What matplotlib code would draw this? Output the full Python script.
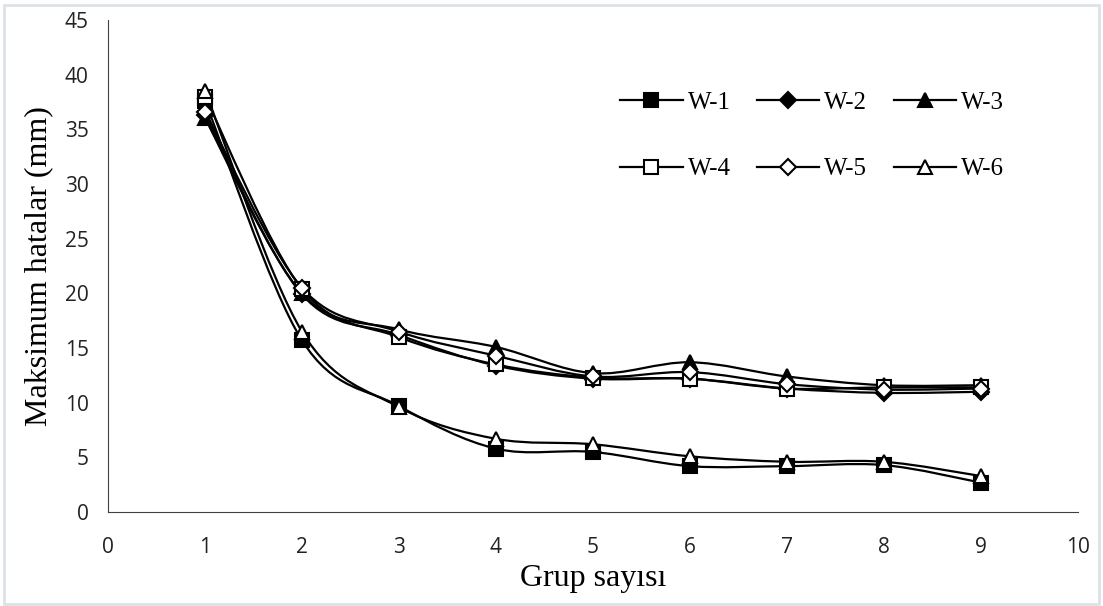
import numpy as np
import matplotlib
matplotlib.use("Agg")
import matplotlib.pyplot as plt
from matplotlib.path import Path
from matplotlib.patches import PathPatch, Rectangle
from matplotlib.lines import Line2D

groups = [1, 2, 3, 4, 5, 6, 7, 8, 9]
w1 = [37.6, 15.7, 9.7, 5.8, 5.5, 4.2, 4.2, 4.3, 2.7]
w2 = [36.3, 19.9, 16.2, 13.4, 12.2, 12.2, 11.3, 10.9, 11.0]
w3 = [36.0, 20.0, 16.7, 15.1, 12.7, 13.7, 12.4, 11.6, 11.6]
w4 = [38.0, 20.4, 16.0, 13.5, 12.3, 12.2, 11.3, 11.4, 11.4]
w5 = [36.6, 20.5, 16.5, 14.3, 12.4, 12.8, 11.7, 11.2, 11.3]
w6 = [38.5, 16.5, 9.6, 6.7, 6.2, 5.1, 4.6, 4.6, 3.3]
labels = ["W-1", "W-2", "W-3", "W-4", "W-5", "W-6"]

serif = "Liberation Serif"
sans = "Open Sans"


def smooth_path(x, y):
    # Excel-like smoothed line: Catmull-Rom as cubic bezier segments
    pts = np.column_stack([x, y]).astype(float)
    n = len(pts)
    verts = [pts[0]]
    codes = [Path.MOVETO]
    for i in range(n - 1):
        p0 = pts[i - 1] if i > 0 else pts[i]
        p1 = pts[i]
        p2 = pts[i + 1]
        p3 = pts[i + 2] if i + 2 < n else pts[i + 1]
        c1 = p1 + (p2 - p0) / 6.0
        c2 = p2 - (p3 - p1) / 6.0
        verts += [c1, c2, p2]
        codes += [Path.CURVE4] * 3
    return Path(verts, codes)


fig = plt.figure(figsize=(11.03, 6.06), dpi=100)
ax = fig.add_axes([0.098, 0.155, 0.879, 0.812])

series = [
    (w1, "s", "black"),
    (w2, "D", "black"),
    (w3, "^", "black"),
    (w4, "s", "white"),
    (w5, "D", "white"),
    (w6, "^", "white"),
]
msize = {"s": 10, "D": 8, "^": 10}

handles = []
for (vals, mk, face), lab in zip(series, labels):
    ax.add_patch(PathPatch(smooth_path(groups, vals), fill=False,
                           edgecolor="black", lw=1.6, zorder=2))
    ax.plot(groups, vals, linestyle="none", marker=mk, ms=msize[mk],
            markerfacecolor=face, markeredgecolor="black", mew=1.5, zorder=3)
    handles.append(Line2D([], [], color="black", lw=1.6, marker=mk,
                          ms=msize[mk], markerfacecolor=face,
                          markeredgecolor="black", mew=1.5))

ax.set_xlim(0, 10)
ax.set_ylim(0, 45)
ax.set_xticks(range(0, 11))
ax.set_yticks(range(0, 46, 5))
ax.tick_params(axis="x", length=0, labelsize=15, pad=18, labelcolor="#222222")
ax.tick_params(axis="y", length=0, labelsize=15, pad=14, labelcolor="#222222")
for t in ax.get_xticklabels() + ax.get_yticklabels():
    t.set_fontfamily(sans)
ax.spines["top"].set_visible(False)
ax.spines["right"].set_visible(False)
ax.spines["left"].set_color("#404040")
ax.spines["bottom"].set_color("#404040")

ax.set_xlabel("Grup sayısı", fontfamily=serif, fontsize=23, labelpad=4)
ax.set_ylabel("Maksimum hatalar (mm)", fontfamily=serif, fontsize=23, labelpad=8)

# legend fills column-wise, so reorder to get W-1..W-3 on the first row
order = [0, 3, 1, 4, 2, 5]
ax.legend([handles[i] for i in order], [labels[i] for i in order],
          ncol=3, frameon=False, loc="upper left",
          bbox_to_anchor=(0.505, 0.9), prop={"family": serif, "size": 18},
          handlelength=2.5, handletextpad=0.2, columnspacing=1.05,
          labelspacing=1.75)

fig.patches.append(Rectangle((0.004, 0.004), 0.992, 0.988,
                             transform=fig.transFigure, fill=False,
                             edgecolor="#dde2e8", lw=2))

fig.savefig("out.png", dpi=100)
